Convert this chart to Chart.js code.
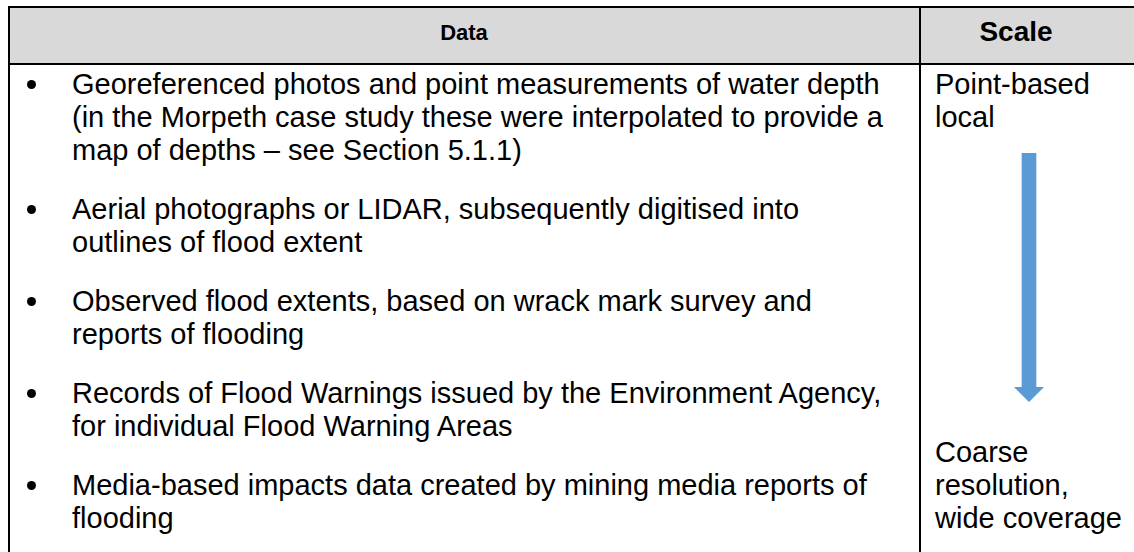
<!DOCTYPE html>
<html>
<head>
<meta charset="utf-8">
<script src="https://cdn.jsdelivr.net/npm/chart.js@4.4.1/dist/chart.umd.min.js"></script>
<style>
  body { margin: 0; width: 1134px; height: 552px; overflow: hidden; background: #fff;
         font-family: Arial, "Liberation Sans", sans-serif; color: #000; position: relative; }
  .abs { position: absolute; }
  #frame { left: 8px; top: 6px; width: 1200px; height: 700px; border: 2px solid #000; }
  #headBg { left: 10px; top: 8px; width: 1124px; height: 55px; background: #d9d9d9; }
  #headLine { left: 10px; top: 63px; width: 1124px; height: 2px; background: #000; }
  #colLine { left: 919px; top: 8px; width: 2px; height: 544px; background: #000; }
  .hdr { font-weight: bold; white-space: nowrap; }
  #hData { left: 9px; width: 910px; text-align: center; top: 20px; font-size: 22px; line-height: 26px; }
  #hScale { left: 921px; width: 190px; text-align: center; top: 16px; font-size: 28px; line-height: 32px; }
  #items { left: 72px; top: 68px; font-size: 29px; line-height: 33px; }
  .item { position: relative; margin-bottom: 26px; white-space: nowrap; }
  .item::before { content: ""; position: absolute; left: -45px; top: 12px; width: 9px; height: 9px;
                  border-radius: 50%; background: #000; }
  .scl { left: 935px; font-size: 29px; line-height: 33px; white-space: nowrap; }
  #arrowBox { left: 929px; top: 153px; }
</style>
</head>
<body>
<div id="frame" class="abs"></div>
<div id="headBg" class="abs"></div>
<div id="headLine" class="abs"></div>
<div id="colLine" class="abs"></div>
<div id="hData" class="abs hdr"></div>
<div id="hScale" class="abs hdr"></div>
<div id="items" class="abs"></div>
<div id="sclTop" class="abs scl" style="top:68px"></div>
<div id="sclBottom" class="abs scl" style="top:436px"></div>
<div id="arrowBox" class="abs"><canvas id="arrow" width="200" height="249"></canvas></div>

<script>
// table text
const headers = ['Data', 'Scale'];
const dataItems = [
  ['Georeferenced photos and point measurements of water depth',
   '(in the Morpeth case study these were interpolated to provide a',
   'map of depths \u2013 see Section 5.1.1)'],
  ['Aerial photographs or LIDAR, subsequently digitised into',
   'outlines of flood extent'],
  ['Observed flood extents, based on wrack mark survey and',
   'reports of flooding'],
  ['Records of Flood Warnings issued by the Environment Agency,',
   'for individual Flood Warning Areas'],
  ['Media-based impacts data created by mining media reports of',
   'flooding']
];
const scaleFine = ['Point-based', 'local'];
const scaleCoarse = ['Coarse', 'resolution,', 'wide coverage'];

// arrow along the scale axis: 0 = fine, 1 = coarse
const scaleCats = ['scale'];
const shaftRange = [0, 0.945];
const headPos = [0.97];

document.getElementById('hData').textContent = headers[0];
document.getElementById('hScale').textContent = headers[1];
document.getElementById('items').innerHTML = dataItems
  .map(lines => `<div class="item">${lines.join('<br>')}</div>`).join('');
document.getElementById('sclTop').innerHTML = scaleFine.join('<br>');
document.getElementById('sclBottom').innerHTML = scaleCoarse.join('<br>');

// arrow head marker
const head = document.createElement('canvas');
head.width = 30; head.height = 15;
const hc = head.getContext('2d');
hc.fillStyle = '#5b9bd5';
hc.beginPath(); hc.moveTo(0, 0); hc.lineTo(30, 0); hc.lineTo(15, 15); hc.closePath(); hc.fill();

new Chart(document.getElementById('arrow'), {
  type: 'bar',
  data: {
    labels: scaleCats,
    datasets: [
      { data: [shaftRange], backgroundColor: '#5b9bd5', borderWidth: 0, barThickness: 14 },
      { type: 'line', data: headPos, showLine: false, pointStyle: head, pointRadius: 8, pointBorderWidth: 0 }
    ]
  },
  options: {
    responsive: false, animation: false,
    layout: { padding: 0, autoPadding: false },
    plugins: { legend: { display: false }, tooltip: { enabled: false } },
    scales: {
      x: { display: false },
      y: { display: false, reverse: true, min: 0, max: 1 }
    }
  }
});
</script>
</body>
</html>
